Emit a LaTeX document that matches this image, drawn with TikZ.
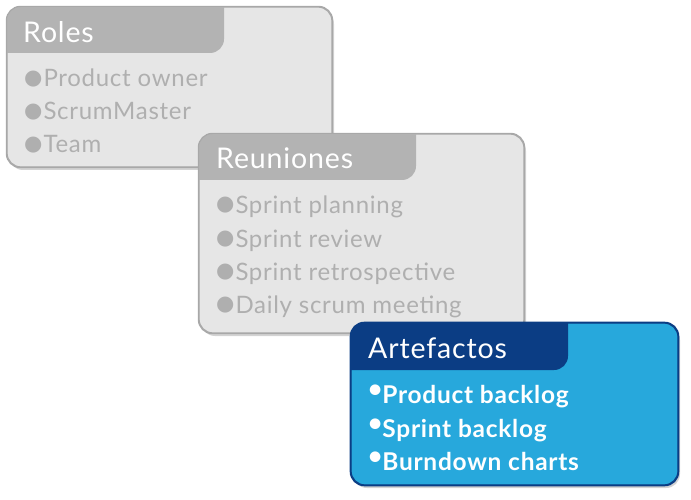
\documentclass[tikz,border=0pt]{standalone}
\usepackage{fontspec}
\setmainfont{Lato}
\newfontfamily\spacedfont[LetterSpace=3]{Lato}
\newfontfamily\dotfont{DejaVu Sans}
\usetikzlibrary{shadows}
\definecolor{gfill}{HTML}{E6E6E6}
\definecolor{gborder}{HTML}{A8A8A8}
\definecolor{gtab}{HTML}{B3B3B3}
\definecolor{gtext}{HTML}{AFAFAF}
\definecolor{bfill}{HTML}{27A8DC}
\definecolor{bdark}{HTML}{0B3D84}
\newcommand\gbul{\raisebox{2.5pt}{\dotfont\fontsize{21}{21}\selectfont ●}\hspace{1pt}}
\newcommand\bbul{\raisebox{0.22em}{•}}
\tikzset{
  panel/.style={rectangle, rounded corners=14pt, line width=1.2pt, inner sep=0pt,
    drop shadow={shadow xshift=2pt, shadow yshift=-3pt, opacity=0.35}},
  graypanel/.style={panel, draw=gborder, fill=gfill},
  bluepanel/.style={panel, draw=bdark, fill=bfill},
  header/.style={anchor=base west, inner sep=0pt, text=white, font=\spacedfont\fontsize{28.5}{28.5}\selectfont},
  gitem/.style={anchor=base west, inner sep=0pt, text=gtext, font=\spacedfont\fontsize{24}{24}\selectfont},
  bitem/.style={anchor=base west, inner sep=0pt, text=white, font=\spacedfont\fontsize{24.5}{24.5}\selectfont\bfseries},
}
\begin{document}
\begin{tikzpicture}[x=1pt,y=1pt]
\useasboundingbox (0,0) rectangle (691,499);
% ---- Roles
\node[graypanel, minimum width=325pt, minimum height=160pt] (roles) at (169.5,412) {};
\begin{scope}
\clip[rounded corners=14pt] (roles.south west) rectangle (roles.north east);
\fill[gtab] (roles.north west) -- (224,492) -- (224,460) arc[start angle=0,end angle=-90,radius=14] -- (7,446) -- cycle;
\end{scope}
\draw[gborder, line width=1.2pt, rounded corners=14pt] (roles.south west) rectangle (roles.north east);
\node[header] (rolesh) at (23,456) {Roles};
\node[gitem] (r1) at (24,412) {\gbul Product owner};
\node[gitem] (r2) at (24,379) {\gbul ScrumMaster};
\node[gitem] (r3) at (24,346) {\gbul Team};
% ---- Reuniones
\node[graypanel, minimum width=325pt, minimum height=199pt] (reun) at (361.5,265.5) {};
\begin{scope}
\clip[rounded corners=14pt] (reun.south west) rectangle (reun.north east);
\fill[gtab] (reun.north west) -- (416,365) -- (416,333) arc[start angle=0,end angle=-90,radius=14] -- (199,319) -- cycle;
\end{scope}
\draw[gborder, line width=1.2pt, rounded corners=14pt] (reun.south west) rectangle (reun.north east);
\node[header] (reunh) at (216,330) {Reuniones};
\node[gitem] (m1) at (216,286) {\gbul Sprint planning};
\node[gitem] (m2) at (216,252) {\gbul Sprint review};
\node[gitem] (m3) at (216,219) {\gbul Sprint retrospective};
\node[gitem] (m4) at (216,186) {\gbul Daily scrum meeting};
% ---- Artefactos
\node[bluepanel, minimum width=327pt, minimum height=162pt] (arte) at (514.5,95) {};
\begin{scope}
\clip[rounded corners=14pt] (arte.south west) rectangle (arte.north east);
\fill[bdark] (arte.north west) -- (568,176) -- (568,143) arc[start angle=0,end angle=-90,radius=14] -- (351,129) -- cycle;
\end{scope}
\draw[bdark, line width=1.4pt, rounded corners=14pt] (arte.south west) rectangle (arte.north east);
\node[header] (arteh) at (368,141) {Artefactos};
\node[bitem] (a1) at (368,96) {\bbul Product backlog};
\node[bitem] (a2) at (368,62) {\bbul Sprint backlog};
\node[bitem] (a3) at (368,29) {\bbul Burndown charts};
\end{tikzpicture}
\end{document}
